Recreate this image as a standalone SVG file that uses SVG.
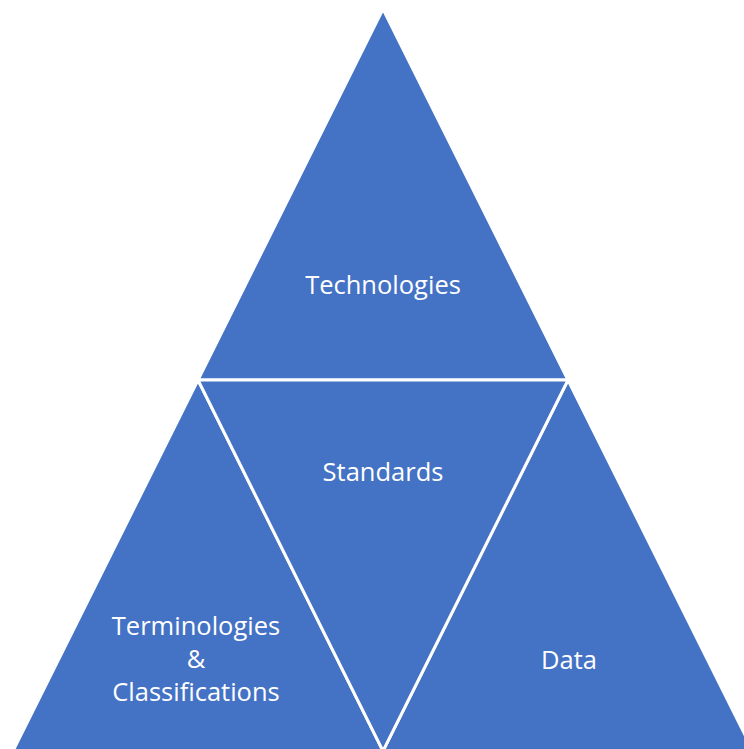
<svg xmlns="http://www.w3.org/2000/svg" width="744" height="749" viewBox="0 0 744 749">
<style>
.tri{fill:#4472C4;stroke:#FFFFFF;stroke-width:3;stroke-linejoin:miter}
.lbl{fill:#FFFFFF;font-family:"Open Sans","Liberation Sans",sans-serif;font-size:25.5px;text-anchor:middle}
</style>
<rect width="744" height="749" fill="#FFFFFF"/>
<g id="technologies">
<polygon class="tri" points="383,9 568,380 198,380"/>
<text class="lbl" x="383" y="294">Technologies</text>
</g>
<g id="terminologies">
<polygon class="tri" points="198,380 383,751 13,751"/>
<text class="lbl" x="196" y="635">Terminologies</text>
<text class="lbl" x="196" y="668">&amp;</text>
<text class="lbl" x="196" y="701">Classifications</text>
</g>
<g id="data">
<polygon class="tri" points="568,380 753,751 383,751"/>
<text class="lbl" x="569" y="669">Data</text>
</g>
<g id="standards">
<polygon class="tri" points="198,380 568,380 383,751"/>
<text class="lbl" x="383" y="481">Standards</text>
</g>
<g id="connectors"></g>
</svg>
